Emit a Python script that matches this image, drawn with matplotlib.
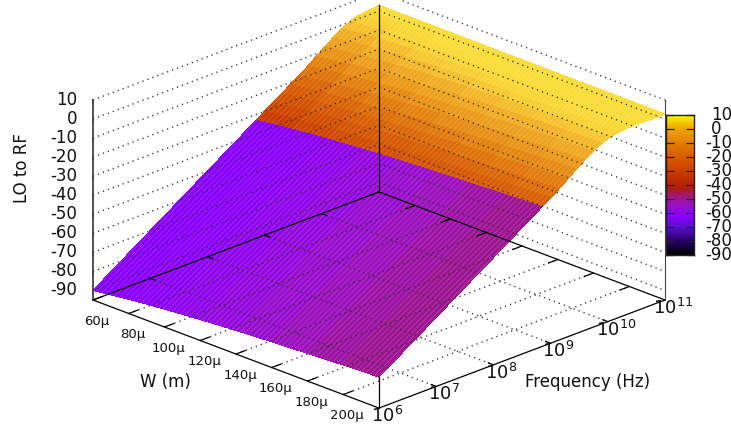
import numpy as np
import matplotlib
matplotlib.use("Agg")
import matplotlib.pyplot as plt
from matplotlib.colors import LinearSegmentedColormap
from mpl_toolkits.mplot3d import proj3d

plt.rcParams["font.family"] = "DejaVu Sans"
plt.rcParams["mathtext.fontset"] = "dejavusans"
plt.rcParams["hatch.linewidth"] = 0.3

# W in um, frequency as log10(Hz)
widths = [60, 80, 100, 120, 140, 160, 180, 200, 220]
log_freq = [6, 7, 8, 8.85, 9, 9.15, 9.3, 9.45, 9.6, 9.75, 9.9, 10.05, 10.2, 10.35, 10.5, 10.65, 10.8, 11]

# LO to RF, one row per width
lo_to_rf = [
    [-90, -70, -50, -33, -30, -27, -24, -21, -18, -14.9, -11.4, -8, -4.9, -2, 0.4, 1.8, 2.4, 3.0],
    [-87.5, -67.5, -47.5, -30.5, -27.5, -24.5, -21.5, -18.5, -15.4, -12, -8.5, -5.4, -2.4, 0.1, 1.6, 2.3, 2.75, 2.95],
    [-85.6, -65.6, -45.6, -28.6, -25.6, -22.6, -19.6, -16.6, -13.2, -9.7, -6.6, -3.5, -0.8, 1.2, 2.1, 2.65, 2.85, 2.9],
    [-84, -64, -44, -27, -24, -21, -18, -14.9, -11.4, -8, -4.9, -2, 0.4, 1.8, 2.4, 2.8, 2.9, 2.85],
    [-82.6, -62.6, -42.6, -25.6, -22.6, -19.6, -16.6, -13.2, -9.7, -6.6, -3.5, -0.8, 1.2, 2.1, 2.65, 2.85, 2.85, 2.8],
    [-81.5, -61.5, -41.5, -24.5, -21.5, -18.5, -15.4, -12, -8.5, -5.4, -2.4, 0.1, 1.6, 2.3, 2.75, 2.85, 2.8, 2.75],
    [-80.5, -60.5, -40.5, -23.5, -20.5, -17.5, -14.3, -10.8, -7.5, -4.4, -1.5, 0.7, 1.9, 2.5, 2.8, 2.8, 2.75, 2.7],
    [-79.5, -59.5, -39.5, -22.5, -19.5, -16.5, -13.1, -9.6, -6.4, -3.4, -0.7, 1.2, 2.1, 2.65, 2.8, 2.75, 2.7, 2.65],
    [-78.7, -58.7, -38.7, -21.7, -18.7, -15.6, -12.2, -8.8, -5.6, -2.6, -0.1, 1.5, 2.25, 2.7, 2.75, 2.7, 2.65, 2.6],
]
# below the break the colour only follows W
low_colour_value = [-63, -62, -60, -58, -56, -54, -52, -50.5, -49]
colour_break = 8.85

z_ticks = [10, 0, -10, -20, -30, -40, -50, -60, -70, -80, -90]
w_ticks = [60, 80, 100, 120, 140, 160, 180, 200]
f_ticks = [6, 7, 8, 9, 10, 11]

palette_levels = [-90, -80, -70, -63, -55, -48, -43, -38, -30, -20, -10, 0, 5, 10]
palette_colours = ["#000000", "#2c0070", "#5a10d0", "#8a00ff", "#9a10c8", "#a01878", "#b01c10",
                   "#bc2800", "#cc4000", "#d85c00", "#e48000", "#f0a400", "#f8cc00", "#ffff00"]

W_MIN, W_MAX = 60, 220
F_MIN, F_MAX = 6, 11
Z_MIN, Z_MAX = -95, 10
PX_W, PX_H = 731, 430


fig = plt.figure(figsize=(PX_W / 100, PX_H / 100), dpi=100)
ax = fig.add_axes([0, 0, 1, 1], projection="3d", computed_zorder=False)
ax.set_proj_type("ortho")
ax.view_init(elev=22.2, azim=-45)
ax.set_box_aspect((1, 1, 0.534))
ax.set_xlim(W_MIN, W_MAX)
ax.set_ylim(F_MIN, F_MAX)
ax.set_zlim(Z_MIN, Z_MAX)
ax.set_axis_off()


def to_px(w, f, z):
    x2, y2, _ = proj3d.proj_transform(w, f, z, ax.get_proj())
    ax.apply_aspect()
    xd, yd = ax.transData.transform((x2, y2))
    return xd, PX_H - yd


# fit the 3d box on the picture: left corner (93,300), right corner (665,300)
x0, y0 = to_px(W_MIN, F_MIN, Z_MIN)
x1, _ = to_px(W_MAX, F_MAX, Z_MIN)
side = 430 * (665 - 93) / (x1 - x0)
ax.set_position([0, 0, side / PX_W, side / PX_H])
x0, y0 = to_px(W_MIN, F_MIN, Z_MIN)
ax.set_position([(93 - x0) / PX_W, (y0 - 300) / PX_H, side / PX_W, side / PX_H])

palette = LinearSegmentedColormap.from_list(
    "lo_rf",
    [((v + 90) / 100, c) for v, c in zip(palette_levels, palette_colours)],
)


def colour_of(v):
    return np.array(palette((v + 90) / 100))


F, W = np.meshgrid(log_freq, widths)
Z = np.array(lo_to_rf)
cell_colours = np.zeros(Z.shape + (4,))
for i in range(len(widths)):
    for j in range(len(log_freq)):
        if log_freq[j] < colour_break:
            cell_colours[i, j] = colour_of(low_colour_value[i])
        else:
            next_j = min(j + 1, len(log_freq) - 1)
            mid = (Z[i, j] + Z[i, next_j]) / 2
            # the upper part runs lighter than the colour box says
            c = colour_of(mid + 0.08 * (mid + 32))
            fade = 0.22 * ((mid + 32) / 35) ** 2
            cell_colours[i, j] = c + (1 - c) * fade

ax.plot_surface(W, F, Z, facecolors=cell_colours, rstride=1, cstride=1, shade=False,
                linewidth=0, antialiased=False, zorder=1)
# the fine pale stripes of the surface
stripes = ax.plot_surface(W, F, Z, color=(1, 1, 1, 0), rstride=1, cstride=1, shade=False,
                          linewidth=0, antialiased=False, zorder=1.5)
stripes.set_edgecolor((1, 1, 1, 0.35))
stripes.set_linewidth(0)
stripes.set_hatch("//////")

dots = dict(color="#333333", lw=1.0, linestyle=(0, (0.9, 2.9)), zorder=2)
solid = dict(color="black", lw=0.9, zorder=3)

# grid on the floor and on the two back walls
for w in w_ticks[1:]:
    ax.plot([w, w], [F_MIN, F_MAX], [Z_MIN, Z_MIN], **dots)
for f in f_ticks[1:-1]:
    ax.plot([W_MIN, W_MAX], [f, f], [Z_MIN, Z_MIN], **dots)
for z in z_ticks:
    ax.plot([W_MIN, W_MIN], [F_MIN, F_MAX], [z, z], **dots)
    ax.plot([W_MIN, W_MAX], [F_MAX, F_MAX], [z, z], **dots)

# box edges
ax.plot([W_MIN, W_MAX], [F_MIN, F_MIN], [Z_MIN, Z_MIN], **solid)
ax.plot([W_MAX, W_MAX], [F_MIN, F_MAX], [Z_MIN, Z_MIN], **solid)
ax.plot([W_MIN, W_MIN], [F_MIN, F_MAX], [Z_MIN, Z_MIN], **solid)
ax.plot([W_MIN, W_MAX], [F_MAX, F_MAX], [Z_MIN, Z_MIN], **solid)
ax.plot([W_MAX, W_MAX], [F_MIN, F_MIN], [Z_MIN, Z[-1, 0]], **solid)
ax.plot([W_MIN, W_MIN], [F_MAX, F_MAX], [Z_MIN, Z[0, -1]], **solid)
ax.plot([W_MAX, W_MAX], [F_MAX, F_MAX], [Z_MIN, Z_MAX], color="#444444", lw=0.8, zorder=3)
ax.plot([W_MIN, W_MIN], [F_MIN, F_MIN], [Z_MIN, Z_MAX], color="#444444", lw=1.3, zorder=3)

# ticks
for w in w_ticks:
    ax.plot([w, w], [F_MIN, F_MIN + 0.16], [Z_MIN, Z_MIN], **solid)
    ax.plot([w, w], [F_MAX, F_MAX - 0.16], [Z_MIN, Z_MIN], **solid)
for f in f_ticks[1:-1]:
    ax.plot([W_MIN, W_MIN + 2.8], [f, f], [Z_MIN, Z_MIN], **solid)
    ax.plot([W_MAX, W_MAX - 2.8], [f, f], [Z_MIN, Z_MIN], **solid)
for z in z_ticks:
    ax.plot([W_MIN, W_MIN + 2.5], [F_MIN, F_MIN - 0.08], [z, z], color="#444444", lw=1.0, zorder=3,
            clip_on=False)


def px_text(x, y, s, **kw):
    fig.text(x / PX_W, 1 - y / PX_H, s, **kw)


for z in z_ticks:
    _, y = to_px(W_MIN, F_MIN, z)
    px_text(77, y, str(z), ha="right", va="center", fontsize=12, color="#111111")
for w in w_ticks:
    x, y = to_px(w, F_MIN, Z_MIN)
    px_text(x + 4, y + 21, "%d\u00b5" % w, ha="center", va="center", fontsize=9.5, color="#111111")
for f in f_ticks:
    x, y = to_px(W_MAX, f, Z_MIN)
    px_text(x + 8, y + 8, r"$\mathdefault{10^{%d}}$" % f, ha="center", va="center", fontsize=13,
            color="#111111")

px_text(165, 382, "W (m)", ha="center", va="center", fontsize=12, color="#111111")
px_text(588, 382, "Frequency (Hz)", ha="center", va="center", fontsize=12, color="#111111")
px_text(22, 168, "LO to RF", ha="center", va="center", rotation=90, fontsize=12, color="#111111")

# colour box
cax = fig.add_axes([666 / PX_W, 1 - 255 / PX_H, 28 / PX_W, 140 / PX_H])
cb_values = np.linspace(-90, 10, 141).reshape(-1, 1)
cax.imshow(cb_values, cmap=palette, vmin=-90, vmax=10, origin="lower", aspect="auto",
           extent=[0, 1, -90, 10], interpolation="nearest")
cax.set_xticks([])
cax.set_yticks(z_ticks)
cax.set_yticklabels([])
cax.tick_params(axis="y", direction="in", length=5.5, width=0.9, left=True, right=True, color="#222222")
for s in cax.spines.values():
    s.set_linewidth(1.0)
    s.set_color("#222222")
for z in z_ticks:
    y = 115 + (10 - z) * 1.4
    px_text(705 if z < 0 else 711, y, str(z), ha="left", va="center", fontsize=12, color="#111111")

fig.savefig("out.png", dpi=100)
